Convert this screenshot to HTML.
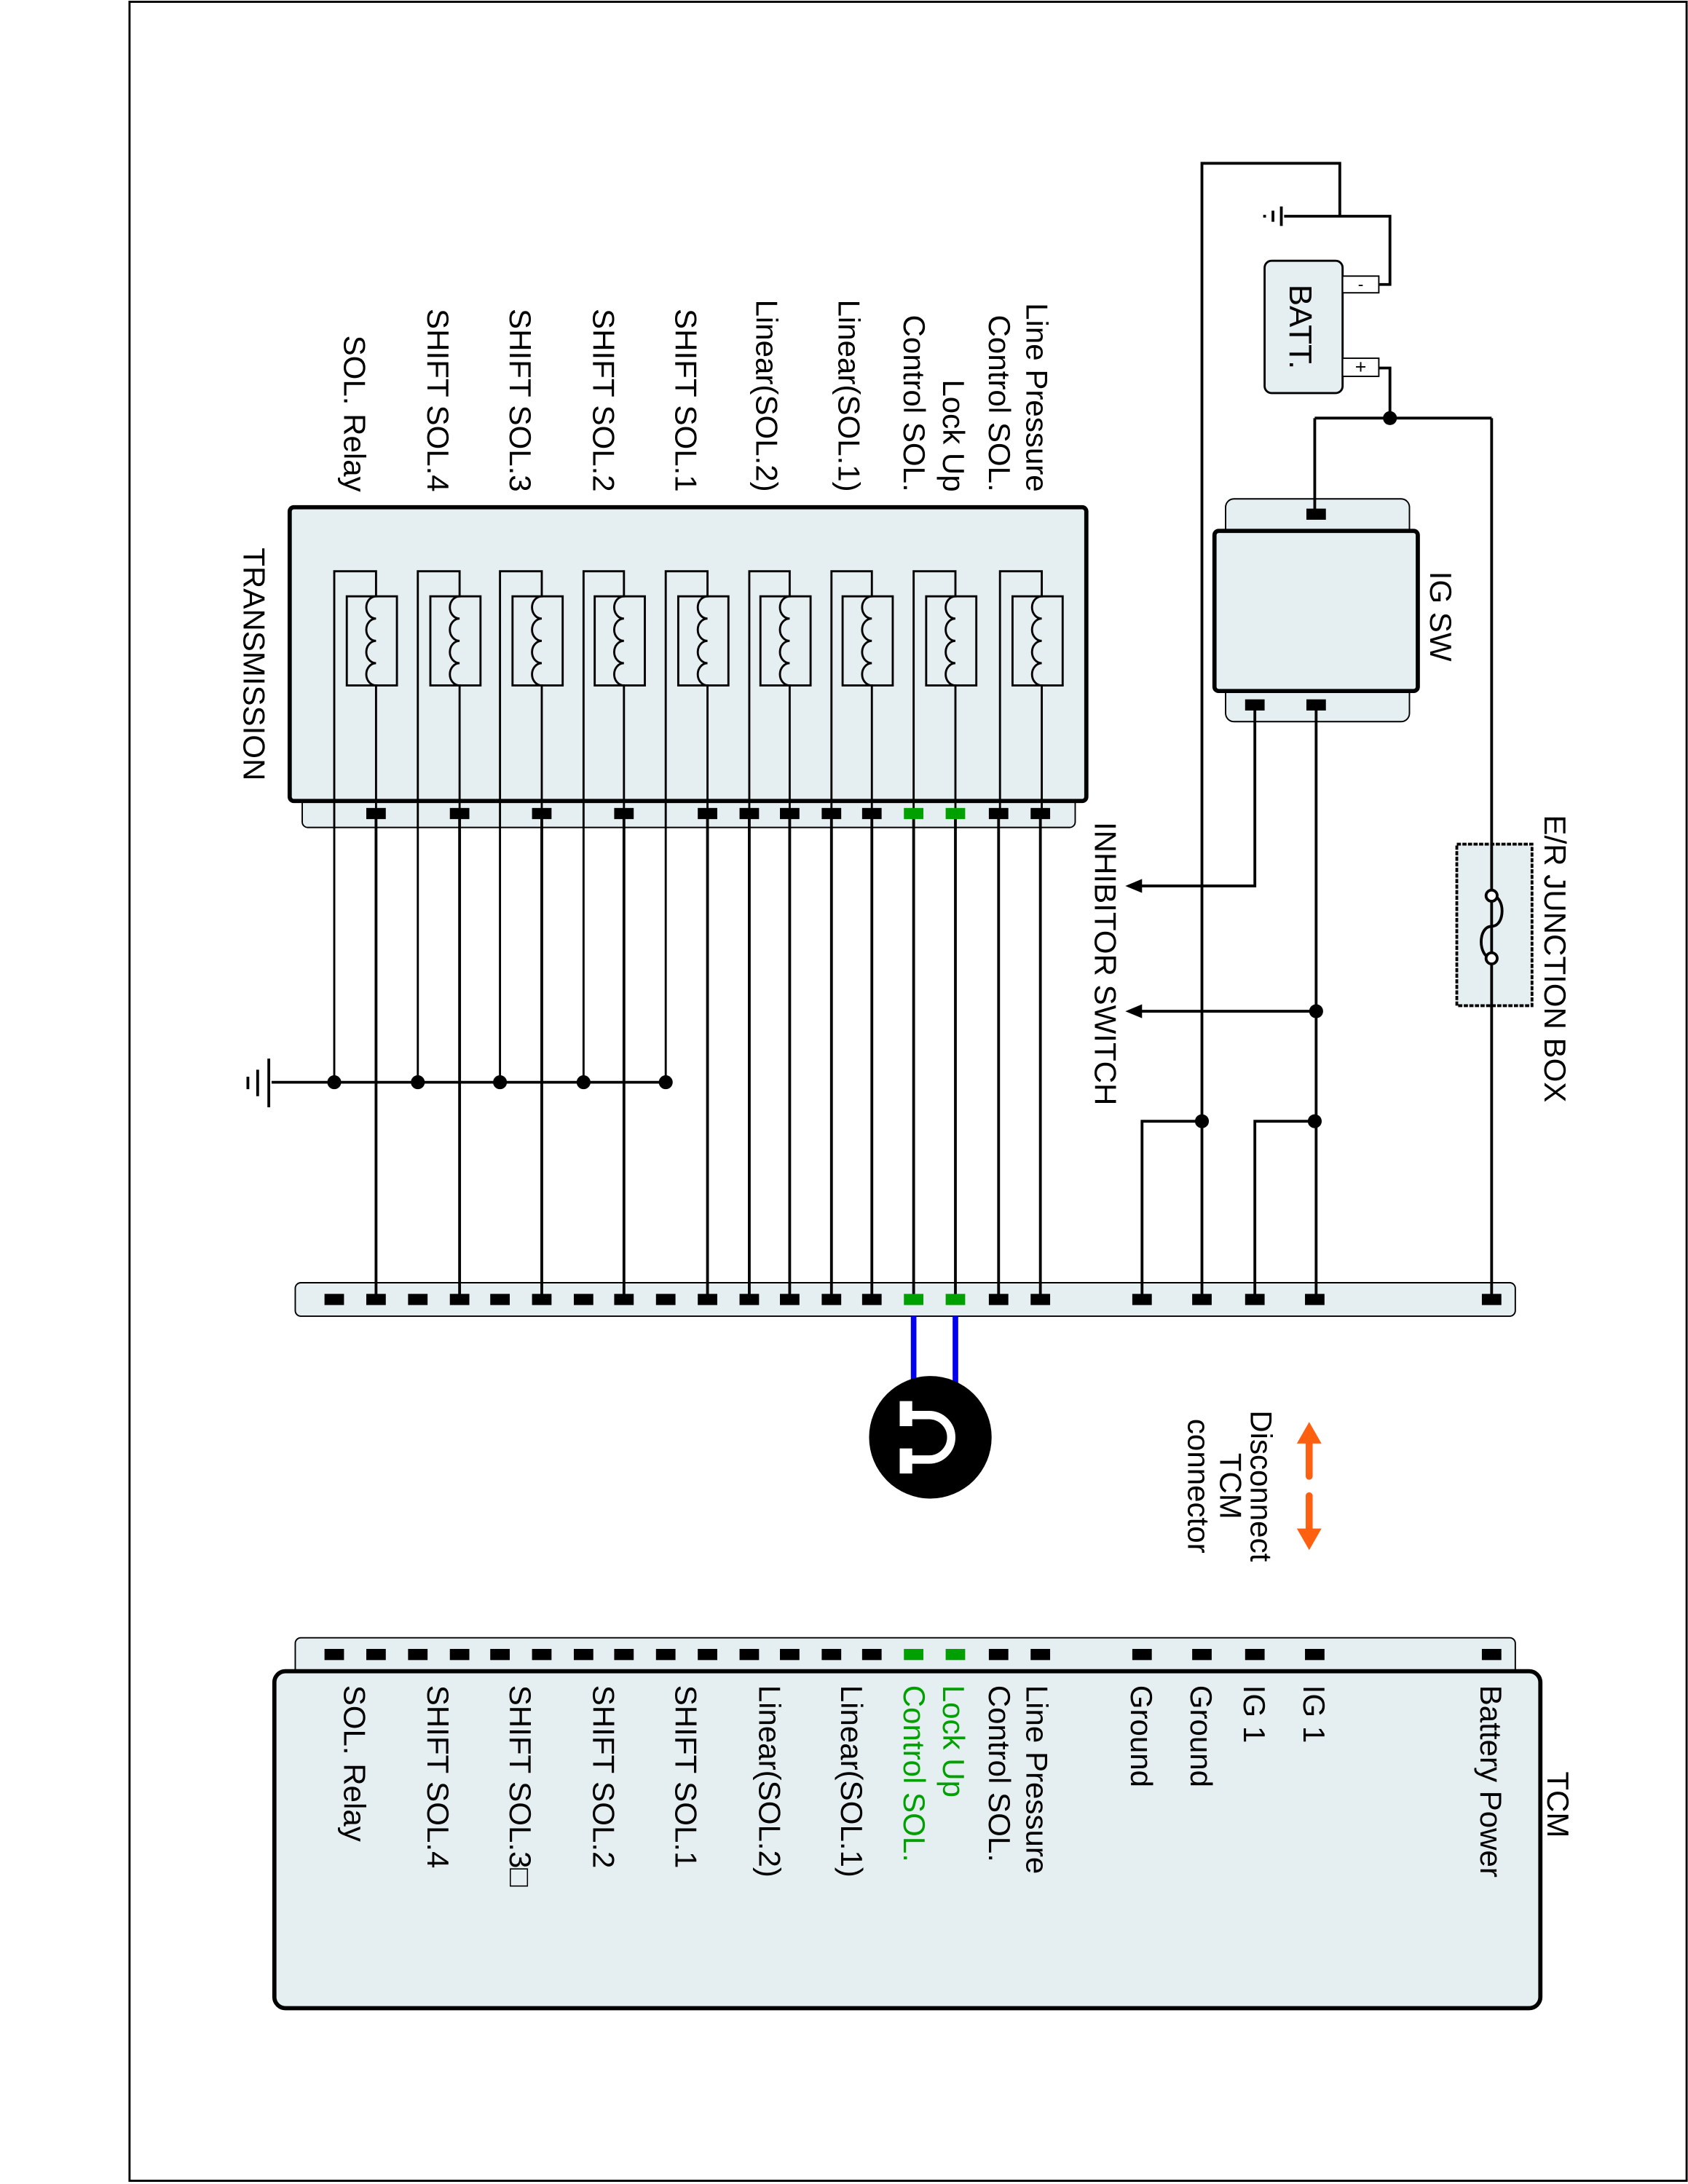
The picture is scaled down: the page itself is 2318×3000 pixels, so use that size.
<!DOCTYPE html>
<html><head><meta charset="utf-8"><style>html,body{margin:0;padding:0;background:#fff}svg{display:block}</style></head>
<body>
<svg width="2318" height="3000" viewBox="0 0 1212 1568" xmlns="http://www.w3.org/2000/svg" font-family="Liberation Sans, Arial, sans-serif" font-size="22">
<rect x="93" y="1" width="1118" height="1565" fill="none" stroke="#000" stroke-width="1.5"/>
<g fill="#e5eef0" stroke="#000">
<rect x="217" y="570" width="555" height="24" rx="4" stroke-width="1"/>
<rect x="208" y="364" width="572" height="211" rx="3" stroke-width="3"/>
<rect x="212" y="921" width="876" height="24" rx="4" stroke-width="1"/>
<rect x="212" y="1176" width="876" height="28" rx="4" stroke-width="1"/>
<rect x="197" y="1200" width="909" height="242" rx="8" stroke-width="3"/>
<rect x="880" y="358" width="132" height="160" rx="6" stroke-width="1"/>
<rect x="872" y="381" width="146" height="115" rx="3" stroke-width="3"/>
<rect x="908" y="187" width="56" height="95" rx="5" stroke-width="1.5"/>
<rect x="964" y="198" width="26" height="12" fill="#fff" stroke-width="1"/>
<rect x="964" y="257" width="26" height="13" fill="#fff" stroke-width="1"/>
<rect x="1046" y="606" width="54" height="116" stroke-width="2" stroke-dasharray="3 1"/>
</g>
<text x="977" y="208" font-size="12" text-anchor="middle">-</text>
<text x="977" y="268" font-size="14" text-anchor="middle">+</text>
<g fill="none" stroke="#000" stroke-width="1.5">
<rect x="727" y="428" width="36" height="64"/><rect x="665" y="428" width="36" height="64"/><rect x="605" y="428" width="36" height="64"/><rect x="546" y="428" width="36" height="64"/><rect x="487" y="428" width="36" height="64"/><rect x="427" y="428" width="36" height="64"/><rect x="368" y="428" width="36" height="64"/><rect x="309" y="428" width="36" height="64"/><rect x="249" y="428" width="36" height="64"/>
<path d="M718 583V410H748V428a7 8 0 0 0 0 16a7 8 0 0 0 0 16a7 8 0 0 0 0 16a7 8 0 0 0 0 16V583"/>
<path d="M656 583V410H686V428a7 8 0 0 0 0 16a7 8 0 0 0 0 16a7 8 0 0 0 0 16a7 8 0 0 0 0 16V583"/>
<path d="M597 583V410H626V428a7 8 0 0 0 0 16a7 8 0 0 0 0 16a7 8 0 0 0 0 16a7 8 0 0 0 0 16V583"/>
<path d="M538 583V410H567V428a7 8 0 0 0 0 16a7 8 0 0 0 0 16a7 8 0 0 0 0 16a7 8 0 0 0 0 16V583"/>
<path d="M478 777V410H508V428a7 8 0 0 0 0 16a7 8 0 0 0 0 16a7 8 0 0 0 0 16a7 8 0 0 0 0 16V583"/>
<path d="M419 777V410H448V428a7 8 0 0 0 0 16a7 8 0 0 0 0 16a7 8 0 0 0 0 16a7 8 0 0 0 0 16V583"/>
<path d="M359 777V410H389V428a7 8 0 0 0 0 16a7 8 0 0 0 0 16a7 8 0 0 0 0 16a7 8 0 0 0 0 16V583"/>
<path d="M300 777V410H330V428a7 8 0 0 0 0 16a7 8 0 0 0 0 16a7 8 0 0 0 0 16a7 8 0 0 0 0 16V583"/>
<path d="M240 777V410H270V428a7 8 0 0 0 0 16a7 8 0 0 0 0 16a7 8 0 0 0 0 16a7 8 0 0 0 0 16V583"/>
</g>
<g fill="none" stroke="#000" stroke-width="2">
<path d="M747 583V933M717 583V933M686 583V933M656 583V933M626 583V933M597 583V933M567 583V933M538 583V933M508 583V933M448 583V933M389 583V933M330 583V933M270 583V933"/>
<path d="M195 777H478"/>
<path d="M193 760V795M185 768V787M178 773V782"/>
<path d="M1071 300V933M944 300H1071M944 300V369M998 300V264H990M990 204H998V155H962V117H863V933M962 155H922"/>
<path d="M920 148V162M914 151V159M908 154V156"/>
<path d="M901 506V636H815M945 506V933M945 726H815M944 805H901V933M863 805H820V933"/>
<path d="M1071 643c10 0 10 22 0 22s-10 22 0 23"/>
</g>
<g stroke="#0000ee" stroke-width="4"><path d="M656 945V995M686 945V995"/></g>
<g fill="#000">
<path d="M808 636l12-5v10zM808 726l12-5v10z"/>
<circle cx="998" cy="300" r="5"/><circle cx="945" cy="726" r="5"/><circle cx="944" cy="805" r="5"/><circle cx="863" cy="805" r="5"/>
<circle cx="240" cy="777" r="5"/><circle cx="300" cy="777" r="5"/><circle cx="359" cy="777" r="5"/><circle cx="419" cy="777" r="5"/><circle cx="478" cy="777" r="5"/>
<circle cx="1071" cy="643" r="4" fill="#fff" stroke="#000" stroke-width="2"/><circle cx="1071" cy="688" r="4" fill="#fff" stroke="#000" stroke-width="2"/>
</g>
<g fill="#000">
<rect x="740" y="580" width="14" height="8"/><rect x="710" y="580" width="14" height="8"/><rect x="619" y="580" width="14" height="8"/><rect x="590" y="580" width="14" height="8"/><rect x="560" y="580" width="14" height="8"/><rect x="531" y="580" width="14" height="8"/><rect x="501" y="580" width="14" height="8"/><rect x="441" y="580" width="14" height="8"/><rect x="382" y="580" width="14" height="8"/><rect x="323" y="580" width="14" height="8"/><rect x="263" y="580" width="14" height="8"/>
<rect x="938" y="365" width="14" height="8"/><rect x="894" y="502" width="14" height="8"/><rect x="938" y="502" width="14" height="8"/>
</g>
<g fill="#000">
<rect x="233" y="929" width="14" height="8"/><rect x="263" y="929" width="14" height="8"/><rect x="293" y="929" width="14" height="8"/><rect x="323" y="929" width="14" height="8"/><rect x="352" y="929" width="14" height="8"/><rect x="382" y="929" width="14" height="8"/><rect x="412" y="929" width="14" height="8"/><rect x="441" y="929" width="14" height="8"/><rect x="471" y="929" width="14" height="8"/><rect x="501" y="929" width="14" height="8"/><rect x="531" y="929" width="14" height="8"/><rect x="560" y="929" width="14" height="8"/><rect x="590" y="929" width="14" height="8"/><rect x="619" y="929" width="14" height="8"/><rect x="710" y="929" width="14" height="8"/><rect x="740" y="929" width="14" height="8"/><rect x="813" y="929" width="14" height="8"/><rect x="856" y="929" width="14" height="8"/><rect x="894" y="929" width="14" height="8"/><rect x="937" y="929" width="14" height="8"/><rect x="1064" y="929" width="14" height="8"/>
</g>
<g fill="#000" transform="translate(0,255)">
<rect x="233" y="929" width="14" height="8"/><rect x="263" y="929" width="14" height="8"/><rect x="293" y="929" width="14" height="8"/><rect x="323" y="929" width="14" height="8"/><rect x="352" y="929" width="14" height="8"/><rect x="382" y="929" width="14" height="8"/><rect x="412" y="929" width="14" height="8"/><rect x="441" y="929" width="14" height="8"/><rect x="471" y="929" width="14" height="8"/><rect x="501" y="929" width="14" height="8"/><rect x="531" y="929" width="14" height="8"/><rect x="560" y="929" width="14" height="8"/><rect x="590" y="929" width="14" height="8"/><rect x="619" y="929" width="14" height="8"/><rect x="710" y="929" width="14" height="8"/><rect x="740" y="929" width="14" height="8"/><rect x="813" y="929" width="14" height="8"/><rect x="856" y="929" width="14" height="8"/><rect x="894" y="929" width="14" height="8"/><rect x="937" y="929" width="14" height="8"/><rect x="1064" y="929" width="14" height="8"/>
</g>
<g fill="#00a000"><rect x="649" y="580" width="14" height="8"/><rect x="679" y="580" width="14" height="8"/><rect x="649" y="929" width="14" height="8"/><rect x="679" y="929" width="14" height="8"/><rect x="649" y="1184" width="14" height="8"/><rect x="679" y="1184" width="14" height="8"/></g>
<circle cx="668" cy="1032" r="44" fill="#000"/>
<rect x="646" y="1006" width="9" height="18" fill="#fff"/><rect x="646" y="1040" width="9" height="18" fill="#fff"/>
<path d="M654 1016H667a16 16 0 0 1 0 32H654" fill="none" stroke="#fff" stroke-width="6"/>
<g fill="#ff6010" stroke="#ff6010"><path d="M940 1060V1036" stroke-width="5" stroke-linecap="round"/><path d="M940 1022l-8 14h16z"/><path d="M940 1074V1098" stroke-width="5" stroke-linecap="round"/><path d="M940 1112l-8 -14h16z"/></g>
<g>
<text transform="translate(737,353) rotate(90)" text-anchor="end">Line Pressure</text>
<text transform="translate(710,353) rotate(90)" text-anchor="end">Control SOL.</text>
<text transform="translate(677,353) rotate(90)" text-anchor="end">Lock Up</text>
<text transform="translate(649,353) rotate(90)" text-anchor="end">Control SOL.</text>
<text transform="translate(602,353) rotate(90)" text-anchor="end">Linear(SOL.1)</text>
<text transform="translate(543,353) rotate(90)" text-anchor="end">Linear(SOL.2)</text>
<text transform="translate(485,353) rotate(90)" text-anchor="end">SHIFT SOL.1</text>
<text transform="translate(426,353) rotate(90)" text-anchor="end">SHIFT SOL.2</text>
<text transform="translate(366,353) rotate(90)" text-anchor="end">SHIFT SOL.3</text>
<text transform="translate(307,353) rotate(90)" text-anchor="end">SHIFT SOL.4</text>
<text transform="translate(247,353) rotate(90)" text-anchor="end">SOL. Relay</text>
<text transform="translate(175,393) rotate(90)">TRANSMISSION</text>
<text transform="translate(926,204) rotate(90)" font-size="23">BATT.</text>
<text transform="translate(1027,410) rotate(90)">IG SW</text>
<text transform="translate(1109,585) rotate(90)">E/R JUNCTION BOX</text>
<text transform="translate(786,590) rotate(90)">INHIBITOR SWITCH</text>
<text transform="translate(1111,1272) rotate(90)">TCM</text>
<text transform="translate(898,1067) rotate(90)" text-anchor="middle">Disconnect</text>
<text transform="translate(876,1067) rotate(90)" text-anchor="middle">TCM</text>
<text transform="translate(853,1067) rotate(90)" text-anchor="middle">connector</text>
<text transform="translate(1063,1210) rotate(90)">Battery Power</text>
<text transform="translate(936,1210) rotate(90)">IG 1</text>
<text transform="translate(893,1210) rotate(90)">IG 1</text>
<text transform="translate(855,1210) rotate(90)">Ground</text>
<text transform="translate(812,1210) rotate(90)">Ground</text>
<text transform="translate(737,1210) rotate(90)">Line Pressure</text>
<text transform="translate(710,1210) rotate(90)">Control SOL.</text>
<text transform="translate(677,1210) rotate(90)" fill="#00a000">Lock Up</text>
<text transform="translate(649,1210) rotate(90)" fill="#00a000">Control SOL.</text>
<text transform="translate(604,1210) rotate(90)">Linear(SOL.1)</text>
<text transform="translate(545,1210) rotate(90)">Linear(SOL.2)</text>
<text transform="translate(485,1210) rotate(90)">SHIFT SOL.1</text>
<text transform="translate(426,1210) rotate(90)">SHIFT SOL.2</text>
<text transform="translate(366,1210) rotate(90)">SHIFT SOL.3□</text>
<text transform="translate(307,1210) rotate(90)">SHIFT SOL.4</text>
<text transform="translate(247,1210) rotate(90)">SOL. Relay</text>
</g>
</svg>
</body></html>
